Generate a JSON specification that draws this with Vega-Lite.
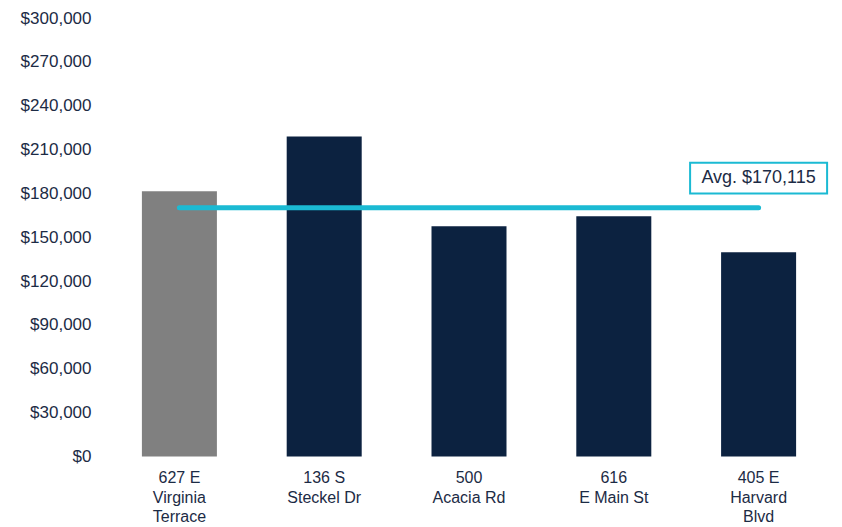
{
  "$schema": "https://vega.github.io/schema/vega-lite/v6.json",
  "width": 724,
  "height": 438.5,
  "autosize": {"type": "none"},
  "padding": {"left": 107, "top": 18, "right": 11, "bottom": 70.5},
  "background": "white",
  "config": {
    "view": {"stroke": null},
    "font": "Liberation Sans"
  },
  "datasets": {
    "bars": [
      {"address": "627 E|Virginia|Terrace", "price": 181500, "type": "subject"},
      {"address": "136 S|Steckel Dr", "price": 219000, "type": "comp"},
      {"address": "500|Acacia Rd", "price": 157500, "type": "comp"},
      {"address": "616|E Main St", "price": 164300, "type": "comp"},
      {"address": "405 E|Harvard|Blvd", "price": 139660, "type": "comp"}
    ],
    "avg": [
      {"start": "627 E|Virginia|Terrace", "end": "405 E|Harvard|Blvd", "avg": 170115, "label": "Avg. $170,115"}
    ]
  },
  "layer": [
    {
      "data": {"name": "bars"},
      "mark": {"type": "bar"},
      "encoding": {
        "x": {
          "field": "address",
          "type": "nominal",
          "sort": null,
          "title": null,
          "scale": {"paddingInner": 0.482, "paddingOuter": 0.241},
          "axis": {
            "labelExpr": "split(datum.label, '|')",
            "labelAngle": 0,
            "labelFontSize": 16,
            "labelLineHeight": 19.5,
            "labelColor": "#1c2b45",
            "labelPadding": 13,
            "labelBaseline": "top",
            "labelLimit": 200,
            "domain": false,
            "ticks": false,
            "tickSize": 0
          }
        },
        "y": {
          "field": "price",
          "type": "quantitative",
          "title": null,
          "scale": {"domain": [0, 300000], "nice": false},
          "axis": {
            "values": [0, 30000, 60000, 90000, 120000, 150000, 180000, 210000, 240000, 270000, 300000],
            "format": "$,.0f",
            "labelFontSize": 17,
            "labelColor": "#1c2b45",
            "labelPadding": 16,
            "grid": false,
            "domain": false,
            "ticks": false,
            "tickSize": 0
          }
        },
        "color": {
          "field": "type",
          "type": "nominal",
          "scale": {"domain": ["subject", "comp"], "range": ["#808080", "#0c2240"]},
          "legend": null
        }
      }
    },
    {
      "data": {"name": "avg"},
      "mark": {"type": "rule", "strokeWidth": 5, "strokeCap": "round", "color": "#1bbad3"},
      "encoding": {
        "x": {"field": "start", "type": "nominal", "sort": null},
        "x2": {"field": "end"},
        "y": {"field": "avg", "type": "quantitative"}
      }
    },
    {
      "data": {"name": "avg"},
      "mark": {
        "type": "point",
        "shape": "M-1,-0.224L1,-0.224L1,0.224L-1,0.224Z",
        "size": 18769,
        "filled": false,
        "fill": "white",
        "fillOpacity": 1,
        "stroke": "#1bbad3",
        "strokeWidth": 2,
        "opacity": 1,
        "yOffset": -29.7
      },
      "encoding": {
        "x": {"field": "end", "type": "nominal", "sort": null},
        "y": {"field": "avg", "type": "quantitative"}
      }
    },
    {
      "data": {"name": "avg"},
      "mark": {
        "type": "text",
        "fontSize": 18,
        "color": "#1c2b45",
        "baseline": "middle",
        "align": "center",
        "dy": -29.5
      },
      "encoding": {
        "x": {"field": "end", "type": "nominal", "sort": null},
        "y": {"field": "avg", "type": "quantitative"},
        "text": {"field": "label"}
      }
    }
  ]
}
